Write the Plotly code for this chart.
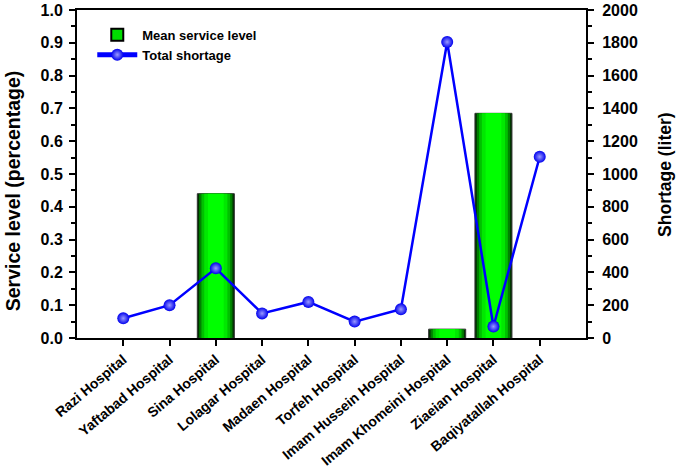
import plotly.graph_objects as go

hospitals = ["Razi Hospital", "Yaftabad Hospital", "Sina Hospital", "Lolagar Hospital",
             "Madaen Hospital", "Torfeh Hospital", "Imam Hussein Hospital",
             "Imam Khomeini Hospital", "Ziaeian Hospital", "Baqiyatallah Hospital"]
service_level = [None, None, 0.44, None, None, None, None, 0.027, 0.685, None]
shortage = [120, 200, 425, 150, 220, 100, 175, 1805, 70, 1105]

FONT = "Liberation Sans, Arial, sans-serif"
fig = go.Figure()

# layered bars to mimic a cylindrical gradient
layers = [(0.8, "#003000", 1), (0.72, "#008000", 0), (0.62, "#00c000", 0),
          (0.5, "#00e800", 0), (0.34, "#00ff00", 0)]
for w, c, lw in layers:
    fig.add_trace(go.Bar(x=hospitals, y=service_level, width=w, marker_color=c,
                         marker_line=dict(color="#333333", width=lw), showlegend=False,
                         hoverinfo="skip", yaxis="y"))
# legend entry for bars
fig.add_trace(go.Bar(x=[None], y=[None], name="Mean service level",
                     marker=dict(color="#00dd00", line=dict(color="black", width=1))))

fig.add_trace(go.Scatter(x=hospitals, y=shortage, name="Total shortage", yaxis="y2",
                         mode="lines+markers",
                         line=dict(color="#0000ff", width=2.5),
                         marker=dict(size=12, color="#0000ee",
                                     gradient=dict(type="radial", color="#9999ff"))))

axis_common = dict(showline=True, linecolor="black", linewidth=2, ticks="outside",
                   tickcolor="black", tickwidth=2, ticklen=6, showgrid=False, zeroline=False,
                   automargin=False, ticklabeloverflow="allow",
                   tickfont=dict(family=FONT, size=16, color="black", weight="bold"))

fig.update_layout(
    width=685, height=467,
    margin=dict(l=77, r=99, t=10, b=129),
    plot_bgcolor="white", paper_bgcolor="white",
    barmode="overlay",
    xaxis=dict(**{**axis_common, "tickfont": dict(family=FONT, size=14, color="black", weight="bold")},
               range=[-1, 10], tickangle=-40, mirror=True),
    yaxis=dict(**axis_common, range=[0, 1.0], dtick=0.1, tickformat=".1f", ticklabelstandoff=3,
               minor=dict(dtick=0.05, ticks="outside", ticklen=4, tickcolor="black", tickwidth=2)),
    yaxis2=dict(**axis_common, range=[0, 2000], dtick=200, overlaying="y", side="right",
                ticklabelstandoff=5,
                minor=dict(dtick=100, ticks="outside", ticklen=4, tickcolor="black", tickwidth=2)),
    legend=dict(x=0.03, y=0.97, xanchor="left", yanchor="top", bgcolor="rgba(0,0,0,0)",
                font=dict(family=FONT, size=13, color="black", weight="bold"),
                tracegroupgap=0, itemwidth=40, itemsizing="constant"),
    annotations=[
        dict(text="Service level (percentage)", xref="paper", yref="paper", x=-0.124, y=0.45,
             textangle=-90, showarrow=False, xanchor="center", yanchor="middle",
             font=dict(family=FONT, size=19.5, color="black", weight="bold")),
        dict(text="Shortage (liter)", xref="paper", yref="paper", x=1.155, y=0.497,
             textangle=-90, showarrow=False, xanchor="center", yanchor="middle",
             font=dict(family=FONT, size=17.5, color="black", weight="bold")),
    ],
)

fig.write_html("out.html", config={"displayModeBar": False},
               post_script="document.body.style.margin='0';document.body.style.overflow='hidden';")
